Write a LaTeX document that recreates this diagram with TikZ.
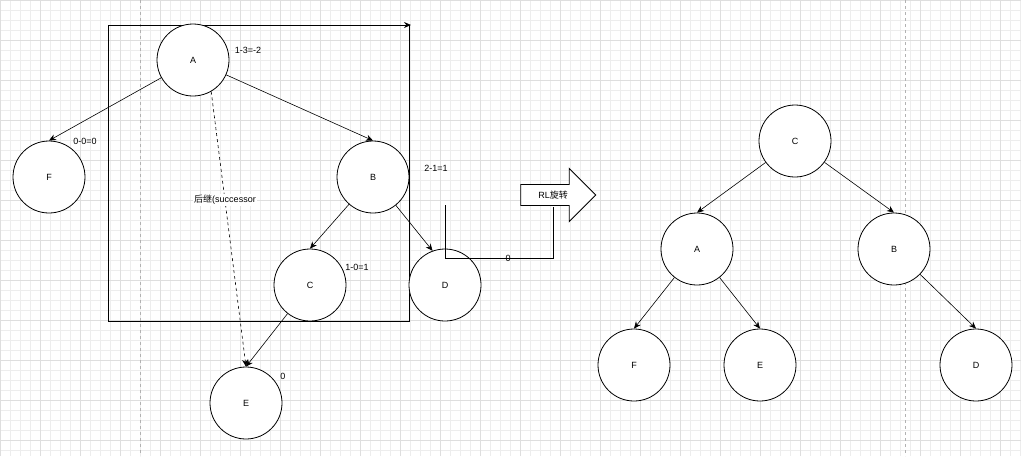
\documentclass[tikz,border=0pt]{standalone}
\usepackage{fontspec}
\setmainfont{Liberation Sans}
\newfontfamily\cjk{Noto Sans CJK SC}
\usetikzlibrary{arrows.meta,positioning,shapes.arrows}
\tikzset{
	>={Stealth[length=7pt,width=6pt]},
	every node/.style={font=\fontsize{9}{10}\selectfont},
	vertex/.style={circle,draw,thick,minimum size=72pt,inner sep=0pt,fill=white},
	tag/.style={inner sep=1pt},
}
\begin{document}
\begin{tikzpicture}[x=1pt,y=-1pt]
        \useasboundingbox (0,0) rectangle (1021,456);
        \fill[white] (0,0) rectangle (1021,456);
        \draw[black!7,step=10pt] (0,0) grid (1021,456);
        \draw[black!13,step=40pt] (0,0) grid (1021,456);
        \draw[black!30,dashed] (140,0) -- (140,456);
        \draw[black!30,dashed] (905,0) -- (905,456);

        % before rotation
        \draw[thick] (409,25) -- (108,25) -- (108,321) -- (409,321) -- (409,25);
        \draw[thick,->] (108,25) -- (411,25);
        \node[vertex] (A) at (193,60) {A};
        \node[vertex] (F) at (49,177) {F};
        \node[vertex] (B) at (373,177) {B};
        \node[vertex] (C) at (310,285) {C};
        \node[vertex] (D) at (445,285) {D};
        \node[vertex] (E) at (246,403) {E};
        \node[tag] at (248,50) {1-3=-2};
        \node[tag] at (85,141) {0-0=0};
        \node[tag] at (436,168) {2-1=1};
        \node[tag] at (357,267) {1-0=1};
        \node[tag] at (283,376) {0};

        \draw[semithick,->] (A) -- (F.north);
        \draw[semithick,->] (A) -- (B.north);
        \draw[semithick,->] (B) -- (C.north);
        \draw[semithick,->] (B) -- (D.110);
        \draw[semithick,->] (C) -- (E.north);
        \draw[semithick,->,dashed] (A.-60) -- (E.north);
        \node[fill=white,inner sep=1pt] at (225,200) {{\cjk 后继}(successor};

        % rotation
        \node[single arrow,draw,thick,fill=white,minimum height=75pt,inner ysep=6pt,inner xsep=3pt,
              single arrow head extend=16pt] (rot) at (553,195) {RL{\cjk 旋转}\hspace{12pt}};
        \coordinate (top) at (445,205);
        \draw[thick] (top) -- (445,258) -- (553,258) -- (553,207);
        \node[tag] at (508,258) {0};

        % after rotation
        \node[vertex] (C2) at (795,141) {C};
        \node[vertex] (A2) at (697,249) {A};
        \node[vertex] (B2) at (894,249) {B};
        \node[vertex] (F2) at (634,365) {F};
        \node[vertex] (E2) at (760,365) {E};
        \node[vertex] (D2) at (976,365) {D};
        \draw[semithick,->] (C2) -- (A2.north);
        \draw[semithick,->] (C2) -- (B2.north);
        \draw[semithick,->] (A2) -- (F2.north);
        \draw[semithick,->] (A2) -- (E2.north);
        \draw[semithick,->] (B2) -- (D2.north);
\end{tikzpicture}
\end{document}
